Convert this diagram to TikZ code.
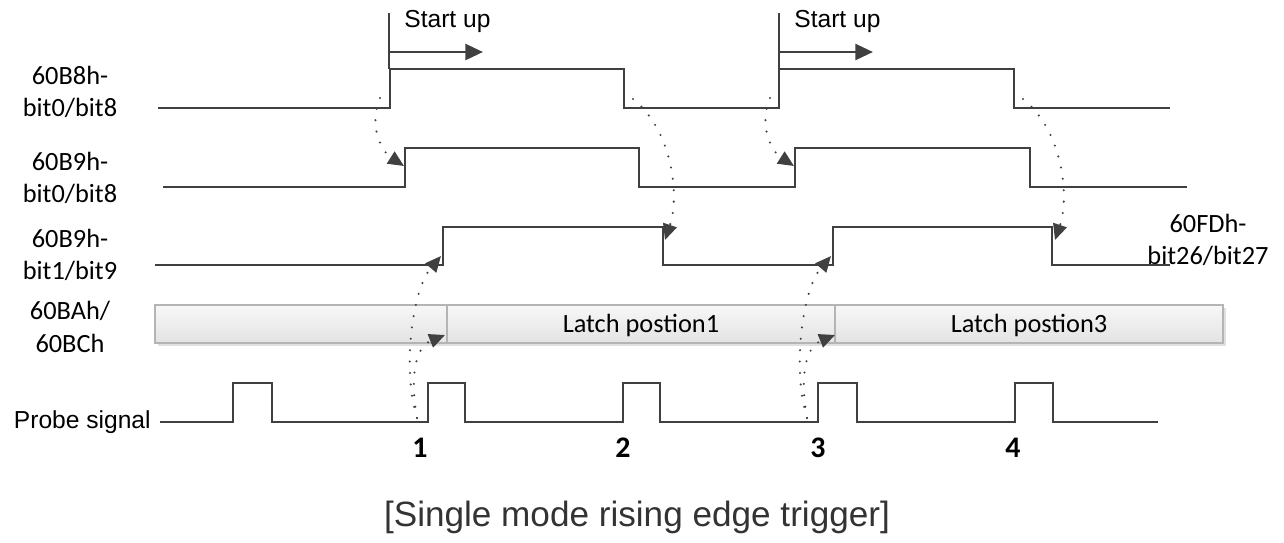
\documentclass[tikz,border=0pt]{standalone}
\usepackage{fontspec}
\setmainfont{Liberation Sans}
\newfontfamily\calib{Carlito}
\usetikzlibrary{arrows.meta}
\definecolor{wire}{HTML}{404040}
\definecolor{barline}{HTML}{B4B4B4}
\tikzset{
  signal/.style={draw=wire, line width=1.6pt},
  dotarrow/.style={draw=wire, line width=1.3pt, line cap=round,
    dash pattern=on 0pt off 6.5pt, -{Triangle[length=9pt,width=8pt]}},
  regname/.style={font=\calib\fontsize{15}{18.5}\selectfont, align=center, inner sep=0pt},
  latchbox/.style={draw=barline, line width=0.6pt, top color=white!97!black, bottom color=white!89!black},
  edgenum/.style={font=\calib\bfseries\fontsize{17}{20}\selectfont, inner sep=0pt},
}
\begin{document}
\begin{tikzpicture}[x=0.02cm,y=-0.02cm]
\useasboundingbox (0,0) rectangle (1284,542);

% register names
\node[regname] (b8) at (70,92) {60B8h-\\bit0/bit8};
\node[regname] (b9a) at (70,178) {60B9h-\\bit0/bit8};
\node[regname] (b9b) at (70,255) {60B9h-\\bit1/bit9};
\node[regname] (bab) at (70,327) {60BAh/\\60BCh};
\node[regname] (fd) at (1208,240) {60FDh-\\bit26/bit27};
\node[anchor=east, inner sep=0pt, font=\fontsize{14}{16}\selectfont] (probe) at (151,422) {Probe signal};

% start up marks
\foreach \sx in {389,779}{
  \draw[signal] (\sx,13) -- (\sx,69);
  \draw[signal, -{Triangle[length=10pt,width=9pt]}] (\sx,52) -- (\sx+94,52);
  \node[anchor=west, inner sep=0pt, font=\fontsize{14}{16}\selectfont] at (\sx+15,21) {Start up};
}

% signals
\draw[signal] (158,108) -- (390,108) -- (390,69) -- (624,69) -- (624,108)
  -- (779,108) -- (779,69) -- (1014,69) -- (1014,108) -- (1170,108);
\draw[signal] (163,187) -- (405,187) -- (405,148) -- (639,148) -- (639,187)
  -- (795,187) -- (795,148) -- (1030,148) -- (1030,187) -- (1187,187);
\draw[signal] (155,265) -- (443,265) -- (443,227) -- (663,227) -- (663,265)
  -- (833,265) -- (833,227) -- (1052,227) -- (1052,265) -- (1170,265);

% latch position bar
\fill[black!12] (158,308) rectangle (1226,346);
\draw[latchbox] (155,305) rectangle (447,343);
\draw[latchbox] (447,305) rectangle (835,343);
\draw[latchbox] (835,305) rectangle (1223,343);
\node[regname] (lp1) at (641,325) {Latch postion1};
\node[regname] (lp3) at (1029,325) {Latch postion3};

% probe signal
\draw[signal, shorten <=5pt] (probe.east) -- (233,422) -- (233,383) -- (272,383) -- (272,422)
  -- (428,422) -- (428,383) -- (465,383) -- (465,422)
  -- (623,422) -- (623,383) -- (660,383) -- (660,422)
  -- (818,422) -- (818,383) -- (857,383) -- (857,422)
  -- (1015,422) -- (1015,383) -- (1053,383) -- (1053,422) -- (1158,422);
\node[edgenum] (n1) at (420,448) {1};
\node[edgenum] (n2) at (623,448) {2};
\node[edgenum] (n3) at (818,448) {3};
\node[edgenum] (n4) at (1013,448) {4};

% dotted cause arrows
\foreach \dx in {0,390}{
  \draw[dotarrow] (\dx+380,98) .. controls (\dx+368,125) and (\dx+382,152) .. (\dx+404,166);
  \draw[dotarrow] (\dx+633,99) .. controls (\dx+672,130) and (\dx+680,195) .. (\dx+665,240);
  \draw[dotarrow] (\dx+417,418) .. controls (\dx+402,370) and (\dx+412,290) .. (\dx+441,256);
  \draw[dotarrow] (\dx+417,418) .. controls (\dx+408,365) and (\dx+420,345) .. (\dx+445,335);
}

% caption
\node[font=\fontsize{20}{24}\selectfont, text=black!80] (cap) at (637,517) {[Single mode rising edge trigger]};
\end{tikzpicture}
\end{document}
